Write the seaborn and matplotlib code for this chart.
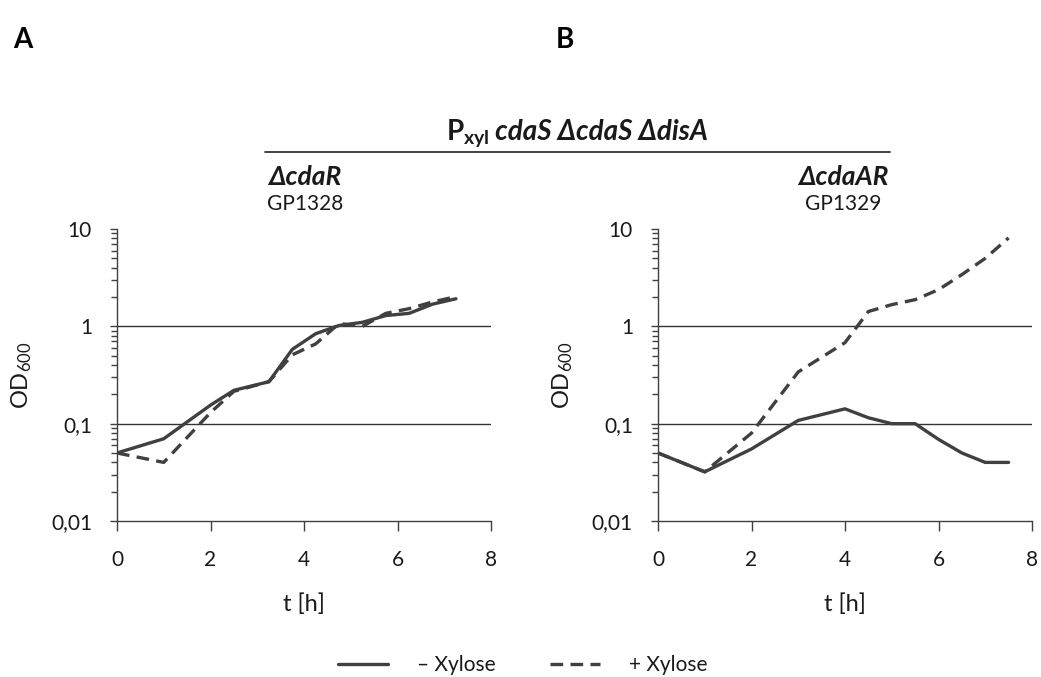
import numpy as np
import pandas as pd
import matplotlib
matplotlib.use("Agg")
import matplotlib.pyplot as plt
import matplotlib.ticker as mticker
from matplotlib.lines import Line2D
from matplotlib.offsetbox import TextArea, HPacker, AnnotationBbox
import seaborn as sns

# ---------------- data ----------------
t_left = [0, 1, 2, 2.5, 3.25, 3.75, 4.25, 4.75, 5.25, 5.75, 6.25, 6.75, 7.25]
left_minus = [0.05, 0.07, 0.155, 0.22, 0.27, 0.58, 0.84, 1.02, 1.10, 1.29, 1.36, 1.69, 1.92]
left_plus = [0.05, 0.04, 0.13, 0.215, 0.27, 0.51, 0.66, 1.07, 1.00, 1.36, 1.52, 1.78, 2.02]

t_right = [0, 1, 2, 3, 4, 4.5, 5, 5.5, 6, 6.5, 7, 7.5]
right_minus = [0.05, 0.032, 0.055, 0.108, 0.142, 0.115, 0.10, 0.10, 0.069, 0.050, 0.040, 0.040]
right_plus = [0.05, 0.032, 0.08, 0.34, 0.68, 1.42, 1.67, 1.88, 2.38, 3.40, 5.0, 8.1]

conditions = ["\u2013 Xylose", "+ Xylose"]
strains = ["GP1328", "GP1329"]
mutants = ["\u0394cdaR", "\u0394cdaAR"]
yticks = [0.01, 0.1, 1, 10]
ytick_labels = ["0,01", "0,1", "1", "10"]
xticks = [0, 2, 4, 6, 8]

# ---------------- style ----------------
sns.set_style("white")
plt.rcParams["font.family"] = ["Lato", "DejaVu Sans"]
plt.rcParams["mathtext.default"] = "regular"

LINE = "#404040"
TXT = "#1a1a1a"
fig = plt.figure(figsize=(10.41, 6.77), dpi=100)

W, H = 1041, 677
ax_l = fig.add_axes([117 / W, (H - 521) / H, 374 / W, 292 / H])
ax_r = fig.add_axes([658 / W, (H - 521) / H, 374 / W, 292 / H])

DASH = (3.8, 2.2)
dashes = {conditions[0]: "", conditions[1]: DASH}

panels = [
    (ax_l, t_left, left_minus, left_plus),
    (ax_r, t_right, right_minus, right_plus),
]
for ax, t, ym, yp in panels:
    df = pd.DataFrame({
        "t": list(t) + list(t),
        "od": list(ym) + list(yp),
        "cond": [conditions[0]] * len(t) + [conditions[1]] * len(t),
    })
    sns.lineplot(data=df, x="t", y="od", style="cond", style_order=conditions,
                 dashes=dashes, color=LINE, linewidth=2.4, ax=ax, legend=False,
                 estimator=None, sort=True)
    ax.set_yscale("log")
    ax.set_ylim(0.01, 10)
    ax.set_xlim(0, 8)
    ax.set_xticks(xticks)
    ax.set_xticklabels([str(x) for x in xticks])
    ax.yaxis.set_major_locator(mticker.FixedLocator(yticks))
    ax.yaxis.set_major_formatter(mticker.FixedFormatter(ytick_labels))
    ax.yaxis.set_minor_locator(mticker.LogLocator(base=10, subs=np.arange(2, 10)))
    ax.yaxis.set_minor_formatter(mticker.NullFormatter())
    for v in [0.1, 1]:
        ax.axhline(v, color="#333333", lw=1.0, zorder=0)
    for s in ["top", "right"]:
        ax.spines[s].set_visible(False)
    for s in ["left", "bottom"]:
        ax.spines[s].set_color("#404040")
        ax.spines[s].set_linewidth(1.0)
    ax.tick_params(axis="y", which="major", direction="out", length=5, width=1,
                   color="#404040", labelsize=15, labelcolor=TXT, pad=13, left=True)
    ax.tick_params(axis="y", which="minor", direction="out", length=4, width=1,
                   color="#404040", left=True)
    ax.tick_params(axis="x", which="major", direction="out", length=7, width=1,
                   color="#404040", labelsize=15, labelcolor=TXT, pad=14, bottom=True)
    ax.set_xlabel("t [h]", fontsize=17, color=TXT)
    ax.set_ylabel("OD$_{600}$", fontsize=17, color=TXT)
    ax.xaxis.set_label_coords(0.5, (521 - 604) / 292)
    ax.xaxis.label.set_va("center")
    ax.yaxis.set_label_coords((22 - 117) / 374, 0.5)
    ax.yaxis.label.set_va("center")
    ax.grid(False)

# panel letters
fig.text(13 / W, 1 - 40 / H, "A", fontsize=20, fontweight="bold", va="center", color="black")
fig.text(556 / W, 1 - 40 / H, "B", fontsize=20, fontweight="bold", va="center", color="black")

# header
p_area = TextArea(r"P$_{\mathregular{xyl}}$",
                  textprops=dict(fontsize=20, fontweight="bold", color=TXT))
g_area = TextArea(" cdaS \u0394cdaS \u0394disA",
                  textprops=dict(fontsize=20, fontweight="bold", fontstyle="italic",
                                 color=TXT))
box = HPacker(children=[p_area, g_area], align="baseline", pad=0, sep=0)
ab = AnnotationBbox(box, (577 / W, 1 - 133 / H), xycoords="figure fraction",
                    frameon=False, box_alignment=(0.5, 0.5))
fig.add_artist(ab)
fig.add_artist(Line2D([265 / W, 890 / W], [1 - 152 / H, 1 - 152 / H],
                      transform=fig.transFigure, color="#222222", lw=1.2))

for xc, mut, strain in [(305, mutants[0], strains[0]), (843, mutants[1], strains[1])]:
    fig.text(xc / W, 1 - 177 / H, mut, fontsize=19, fontweight="bold",
             fontstyle="italic", ha="center", va="center", color=TXT)
    fig.text(xc / W, 1 - 204 / H, strain, fontsize=15, ha="center", va="center",
             color=TXT)

# legend
handles = [Line2D([], [], color=LINE, lw=2.4, linestyle="-"),
           Line2D([], [], color=LINE, lw=2.4, linestyle=(0, DASH))]
fig.legend(handles, conditions, loc="center", bbox_to_anchor=(523 / W, 1 - 665 / H),
           ncol=2, frameon=False, fontsize=15, handlelength=2.4,
           columnspacing=2.6, handletextpad=1.4, labelcolor=TXT)

fig.savefig("out.png", dpi=100)
